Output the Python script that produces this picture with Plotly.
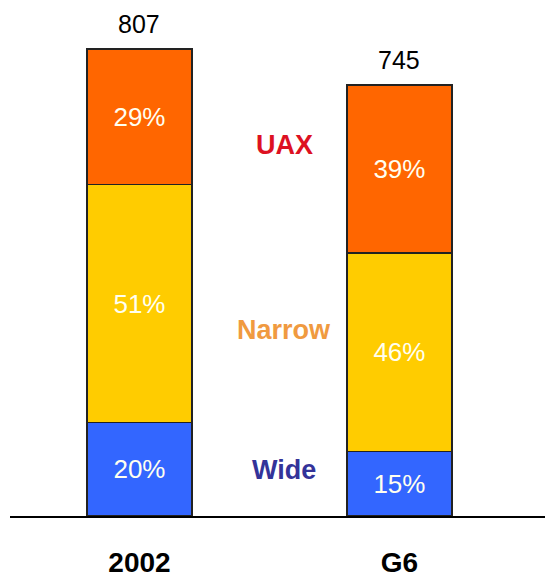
import plotly.graph_objects as go

categories = ["2002", "G6"]
totals = [807, 745]
wide_pct = [20, 15]
narrow_pct = [51, 46]
uax_pct = [29, 39]

series = [
    ("Wide", wide_pct, "#3366FF"),
    ("Narrow", narrow_pct, "#FFCC00"),
    ("UAX", uax_pct, "#FF6600"),
]

FONT = "Arial, Liberation Sans, sans-serif"

fig = go.Figure()
for name, pct, color in series:
    vals = [t * p / 100 for t, p in zip(totals, pct)]
    fig.add_trace(go.Bar(
        x=categories, y=vals, name=name,
        marker=dict(color=color, line=dict(color="#222222", width=1.5)),
        text=[f"{p}%" for p in pct],
        textposition="inside", insidetextanchor="middle",
        textfont=dict(color="#FFFFF0", size=26, family=FONT),
        width=0.404,
    ))

# totals above bars (x given as category index)
for i, t in enumerate(totals):
    fig.add_annotation(x=i, y=t, text=str(t), showarrow=False,
                       yanchor="middle", yshift=25,
                       font=dict(size=25, color="black", family=FONT))

# series labels between bars
label_info = [("UAX", "#DD1122", 641), ("Narrow", "#F09A40", 321), ("Wide", "#333399", 80)]
for txt, col, yv in label_info:
    fig.add_annotation(x=0.556, y=yv, text=txt, showarrow=False,
                       xanchor="center", yanchor="middle",
                       font=dict(size=27, color=col, family=FONT, weight="bold"))

fig.update_layout(
    barmode="stack",
    width=545, height=582,
    margin=dict(l=10, r=0, t=0, b=66),
    paper_bgcolor="white", plot_bgcolor="white",
    showlegend=False,
    font=dict(family=FONT),
)
fig.update_xaxes(
    type="category", automargin=False,
    range=[-0.498, 1.56], showline=True, linecolor="black", linewidth=1.5,
    showgrid=False, zeroline=False, ticks="",
    tickfont=dict(size=28, color="black", family=FONT, weight="bold"),
    ticklabelstandoff=21,
)
fig.update_yaxes(range=[0, 891.7], visible=False, showgrid=False, zeroline=False, automargin=False)

fig.write_html(
    "out.html",
    config={"displayModeBar": False},
    post_script="document.body.style.margin='0';document.body.style.overflow='hidden';",
)
